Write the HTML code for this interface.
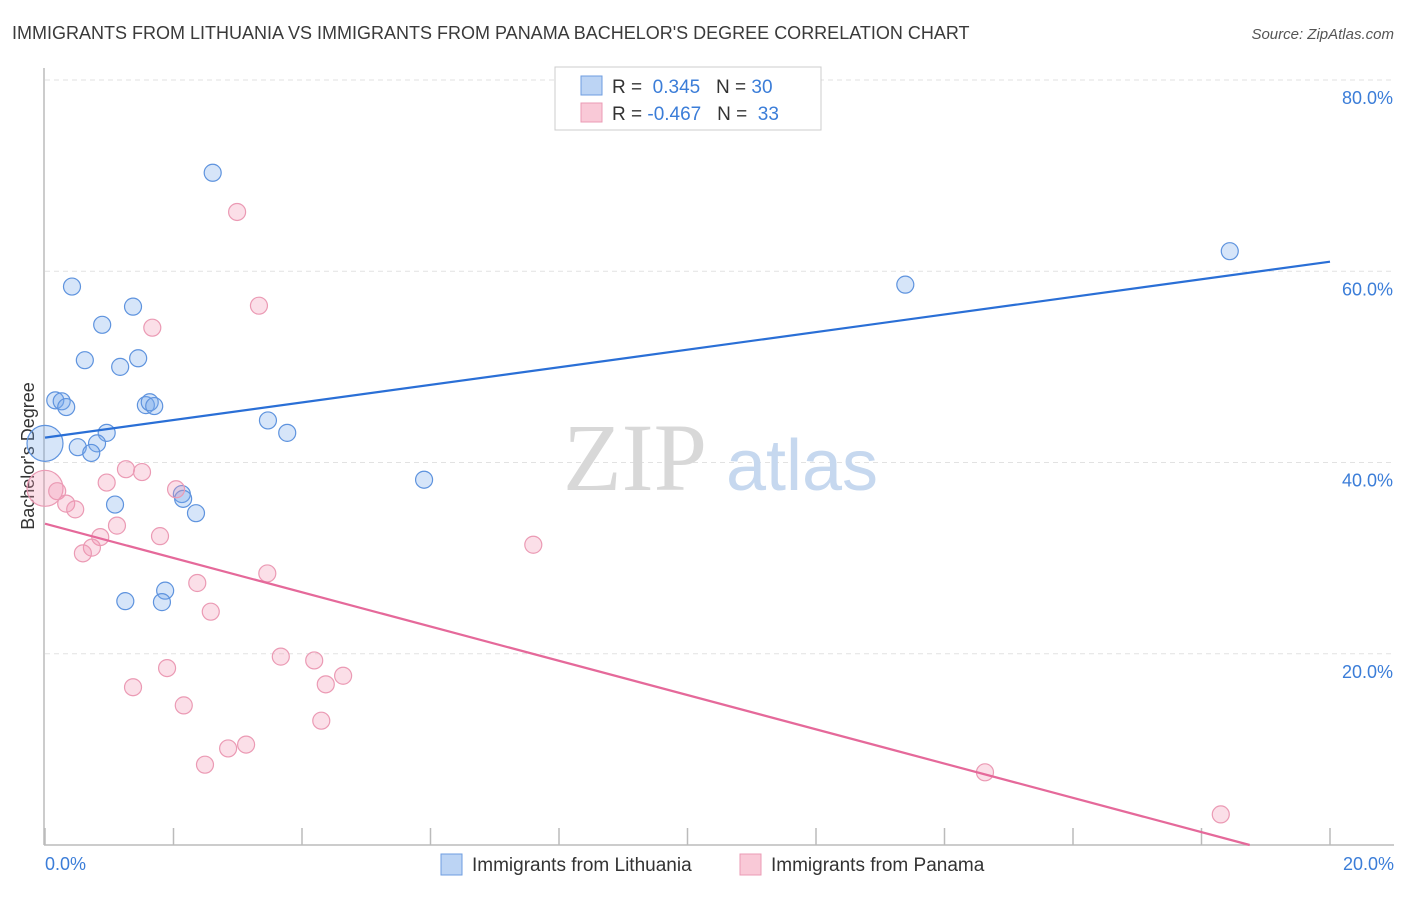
<!DOCTYPE html>
<html><head><meta charset="utf-8"><style>
body{margin:0;background:#fff;font-family:"Liberation Sans",sans-serif;}
</style></head><body>
<svg id="chart" width="1406" height="892" xmlns="http://www.w3.org/2000/svg" font-family="Liberation Sans, sans-serif">
<text x="12" y="39" font-size="18" fill="#3a3a3a">IMMIGRANTS FROM LITHUANIA VS IMMIGRANTS FROM PANAMA BACHELOR'S DEGREE CORRELATION CHART</text>
<text x="1394" y="39" font-size="15" fill="#555" font-style="italic" text-anchor="end">Source: ZipAtlas.com</text>
<g id="grid"></g>
<g>
<text x="635" y="490" font-size="96" fill="#d8d8d8" font-family="Liberation Serif, serif" text-anchor="middle">ZIP</text>
<text x="802" y="490" font-size="72" fill="#c6d8ef" text-anchor="middle">atlas</text>
</g>
<line x1="44" y1="68" x2="44" y2="845" stroke="#bbb" stroke-width="1.5"/>
<line x1="44" y1="845" x2="1394" y2="845" stroke="#bbb" stroke-width="1.5"/>
<g id="xticks"></g>
<g id="ylabels"></g>
<text transform="translate(34,456) rotate(-90)" font-size="18" fill="#333" text-anchor="middle">Bachelor's Degree</text>
<text x="45" y="870" font-size="18" fill="#3b7dd8">0.0%</text>
<text x="1394" y="870" font-size="18" fill="#3b7dd8" text-anchor="end">20.0%</text>
<g id="points"></g>
<g id="trends"></g>
<g>
<rect x="555" y="67" width="266" height="63" fill="#fff" stroke="#ccc"/>
<rect x="581" y="76" width="21" height="19" fill="#bcd4f4" stroke="#6e9de0"/>
<rect x="581" y="103" width="21" height="19" fill="#f9c9d7" stroke="#eb9bb4"/>
<text x="612" y="93" font-size="19" fill="#333">R = <tspan fill="#3b7dd8">&#160;0.345</tspan>&#160;&#160;&#160;N = <tspan fill="#3b7dd8">30</tspan></text>
<text x="612" y="120" font-size="19" fill="#333">R = <tspan fill="#3b7dd8">-0.467</tspan>&#160;&#160;&#160;N = <tspan fill="#3b7dd8">&#160;33</tspan></text>
</g>
<g>
<rect x="441" y="854" width="21" height="21" fill="#bcd4f4" stroke="#6e9de0"/>
<text x="472" y="871" font-size="19" fill="#333">Immigrants from Lithuania</text>
</g>
<g>
<rect x="740" y="854" width="21" height="21" fill="#f9c9d7" stroke="#eb9bb4"/>
<text x="771" y="871" font-size="19" fill="#333">Immigrants from Panama</text>
</g>
</svg>
<script>
const yTicks=[20,40,60,80];
const yTickLabels=["20.0%","40.0%","60.0%","80.0%"];
const xTicks=[0,2,4,6,8,10,12,14,16,18,20];
const lithX=[2.61,0.42,1.37,0.89,0.62,1.45,1.17,0.16,0.26,0.33,1.57,1.63,1.70,3.47,3.77,0.96,0.81,0.51,0.72,0.0,5.90,2.13,2.15,2.35,1.09,1.87,1.82,1.25,13.39,18.44];
const lithY=[70.3,58.4,56.3,54.4,50.7,50.9,50.0,46.5,46.4,45.8,46.0,46.3,45.9,44.4,43.1,43.1,42.0,41.6,41.0,42.0,38.2,36.7,36.2,34.7,35.6,26.6,25.4,25.5,58.6,62.1];
const lithBig=[19];
const panX=[2.99,3.33,1.67,1.26,1.51,0.96,2.04,0.0,0.19,0.33,0.47,1.12,1.79,0.86,0.73,0.59,3.46,2.37,2.58,7.60,1.90,3.67,4.19,4.37,4.64,1.37,2.16,4.30,3.13,2.85,2.49,14.63,18.30];
const panY=[66.2,56.4,54.1,39.3,39.0,37.9,37.2,37.3,37.0,35.7,35.1,33.4,32.3,32.2,31.1,30.5,28.4,27.4,24.4,31.4,18.5,19.7,19.3,16.8,17.7,16.5,14.6,13.0,10.5,10.1,8.4,7.6,3.2];
const panBig=[7];
const lithTrend=[42.6,61.0]; // y at x=0 and x=20
const panTrend=[33.6,-2.24]; // y at x=0 and x=20
const ns="http://www.w3.org/2000/svg";
const X=v=>45+v*64.25;
const Y=v=>845-v*9.5625;
function mk(t,a,p){const e=document.createElementNS(ns,t);for(const k in a)e.setAttribute(k,a[k]);p.appendChild(e);return e;}
const grid=document.getElementById('grid');
yTicks.forEach((t,i)=>{
 const l=mk('line',{x1:45,x2:1394,y1:Y(t),y2:Y(t),stroke:'#e2e2e2','stroke-dasharray':'5,4'},grid);
 
 
 const tx=mk('text',{x:1393,y:Y(t)+24,'font-size':18,fill:'#3b7dd8','text-anchor':'end'},document.getElementById('ylabels'));
 tx.textContent=yTickLabels[i];
 
 
});
xTicks.forEach(t=>{
 const l=mk('line',{x1:X(t),x2:X(t),y1:828,y2:845,stroke:'#bbb','stroke-width':1.5},document.getElementById('xticks'));
 
 
});
const pts=document.getElementById('points');
lithX.forEach((x,i)=>{
 const c=mk('circle',{cx:X(x),cy:Y(lithY[i]),r:lithBig.includes(i)?18:8.5,fill:'rgba(120,170,235,0.3)',stroke:'#5e93de','stroke-width':1.2},pts);
 
 
});
panX.forEach((x,i)=>{
 const c=mk('circle',{cx:X(x),cy:Y(panY[i]),r:panBig.includes(i)?18:8.5,fill:'rgba(242,150,180,0.3)',stroke:'#eb9ab4','stroke-width':1.2},pts);
 
 
});
const tr=document.getElementById('trends');
const t1=mk('line',{x1:X(0),y1:Y(lithTrend[0]),x2:X(20),y2:Y(lithTrend[1]),stroke:'#2a6fd6','stroke-width':2.2},tr);


const xz=-panTrend[0]/((panTrend[1]-panTrend[0])/20);
const t2=mk('line',{x1:X(0),y1:Y(panTrend[0]),x2:X(xz),y2:Y(0),stroke:'#e5699a','stroke-width':2.2},tr);


</script>
</body></html>
